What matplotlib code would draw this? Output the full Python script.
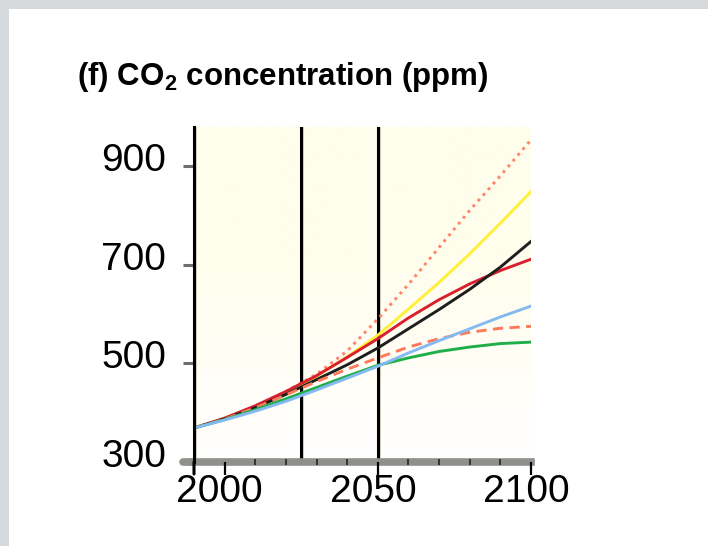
import numpy as np
import matplotlib
matplotlib.use("Agg")
import matplotlib.pyplot as plt
import matplotlib.transforms as mtransforms
from matplotlib.patches import Rectangle

# ---------------- data ----------------
years = [1990, 2000, 2010, 2020, 2030, 2040, 2050, 2060, 2070, 2080, 2090, 2100]
dotted_salmon = [369, 388, 413, 443, 478, 525, 590, 660, 735, 810, 880, 953]
yellow = [369, 388, 412, 441, 474, 513, 557, 610, 664, 722, 784, 848]
red_solid = [369, 389, 414, 443, 475, 512, 550, 592, 629, 661, 688, 711]
black = [369, 387, 410, 437, 467, 497, 531, 570, 609, 650, 695, 747]
dashed_salmon = [369, 387, 410, 436, 463, 488, 511, 533, 550, 563, 571, 575]
green = [369, 386, 406, 428, 451, 474, 496, 511, 524, 533, 540, 543]
blue = [369, 385, 403, 423, 446, 470, 494, 521, 546, 570, 594, 616]

y_ticks = [300, 500, 700, 900]
y_ticklabels = ["300", "500", "700", "900"]
x_major = [2000, 2050, 2100]
x_ticklabels = ["2000", "2050", "2100"]
x_minor = [1990, 2010, 2020, 2030, 2040, 2060, 2070, 2080, 2090]
vlines = [2025, 2050]
title = r"(f) CO$_2$ concentration (ppm)"

# ---------------- fonts ----------------
title_font = "Liberation Sans"
plt.rcParams["font.family"] = ["Liberation Sans", "DejaVu Sans"]
plt.rcParams["mathtext.fontset"] = "custom"
plt.rcParams["mathtext.rm"] = f"{title_font}:bold"
plt.rcParams["mathtext.it"] = f"{title_font}:bold"
plt.rcParams["mathtext.bf"] = f"{title_font}:bold"

W, H = 708, 546
fig = plt.figure(figsize=(W / 100, H / 100), dpi=100)
fig.patch.set_facecolor("white")
# grey frame strips (top and left)
fig.patches.append(Rectangle((0, 1 - 9 / H), 1, 9 / H, transform=fig.transFigure,
                             facecolor="#d6d9db", edgecolor="none", zorder=-5))
fig.patches.append(Rectangle((0, 0), 9 / W, 1, transform=fig.transFigure,
                             facecolor="#d6d9db", edgecolor="none", zorder=-5))

left, right, top, bottom = 194, 531, 127, 462
ax = fig.add_axes([left / W, 1 - bottom / H, (right - left) / W, (bottom - top) / H])
ax.set_xlim(1990, 2100)
ax.set_ylim(300, 979)
ax.patch.set_alpha(0)

# cream-to-white background gradient
grad = np.linspace(0, 1, 256).reshape(-1, 1)
c_top = np.array([255, 253, 236]) / 255
c_bot = np.array([255, 255, 255]) / 255
frac = np.clip(grad / 0.6, 0, 1)
img = c_bot + (c_top - c_bot) * frac
img = np.repeat(img[:, None, :], 2, axis=1)
ax.imshow(img, extent=[0, 1, 0, 1], transform=ax.transAxes,
          origin="lower", aspect="auto", zorder=0, interpolation="bilinear")

# vertical reference lines with light shadow
shadow = mtransforms.offset_copy(ax.transData, fig=fig, x=2.0, y=0, units="dots")
for v in vlines:
    ax.plot([v, v], [300, 979], color="#cfc9b6", lw=1.2, transform=shadow, zorder=2)
    ax.axvline(v, color="black", lw=2.2, zorder=3)
ax.plot([1990, 1990], [300, 979], color="#cfc9b6", lw=1.2, transform=shadow, zorder=2)

# series
kw = dict(lw=2.1, zorder=4)
ax.plot(years, dotted_salmon, color="#ff8468", linestyle=(0, (1, 1.6)), **kw)
ax.plot(years, yellow, color="#fff03a", **kw)
ax.plot(years, red_solid, color="#d8202e", **kw)
ax.plot(years, black, color="#1e1e1e", **kw)
ax.plot(years, dashed_salmon, color="#ff7a5c", linestyle=(0, (3.5, 2.2)), **kw)
ax.plot(years, green, color="#1fae48", **kw)
ax.plot(years, blue, color="#84b9f2", **kw)

# spines
for s in ["top", "right"]:
    ax.spines[s].set_visible(False)
ax.spines["left"].set_color("black")
ax.spines["left"].set_linewidth(2.2)
ax.spines["left"].set_zorder(6)
ax.spines["bottom"].set_color("#8f8f8c")
ax.spines["bottom"].set_linewidth(5.5)
ax.spines["bottom"].set_zorder(5)
ax.xaxis.set_zorder(5.5)

# grey axis band continues a little to the left of the y axis
ax.annotate("", xy=(1990, 0), xycoords=("data", "axes fraction"),
            xytext=(-11, 0), textcoords="offset pixels",
            arrowprops=dict(arrowstyle="-", lw=5.5, color="#8f8f8c", shrinkA=0, shrinkB=0),
            annotation_clip=False, zorder=5)

# y ticks
ax.set_yticks(y_ticks)
ax.set_yticklabels(y_ticklabels)
ax.tick_params(axis="y", direction="out", length=8, width=2.2, color="#6e6e6e",
               labelsize=28, pad=12)
yoff = mtransforms.ScaledTranslation(0, 9 / 100, fig.dpi_scale_trans)
for lab in ax.get_yticklabels():
    lab.set_transform(lab.get_transform() + yoff)

# x ticks
ax.set_xticks(x_major)
ax.set_xticklabels(x_ticklabels)
ax.set_xticks(x_minor, minor=True)
ax.tick_params(axis="x", which="major", direction="out", length=9, width=1.6,
               color="black", labelsize=28, pad=0)
ax.tick_params(axis="x", which="minor", direction="inout", length=5, width=1.4, color="#333333")
xoff = mtransforms.ScaledTranslation(-5 / 100, 0, fig.dpi_scale_trans)
for lab in ax.get_xticklabels():
    lab.set_transform(lab.get_transform() + xoff)

# left spine extends below the axis like a tick
ax.annotate("", xy=(1990, 0), xycoords=("data", "axes fraction"),
            xytext=(0, -12), textcoords="offset pixels",
            arrowprops=dict(arrowstyle="-", lw=2.2, color="black", shrinkA=0, shrinkB=0),
            annotation_clip=False, zorder=7)

fig.text(77 / W, 1 - 85 / H, title, fontsize=22.5, fontweight="bold",
         family=[title_font, "DejaVu Sans"], va="baseline", ha="left")

fig.savefig("out.png", dpi=100, facecolor=fig.get_facecolor())
